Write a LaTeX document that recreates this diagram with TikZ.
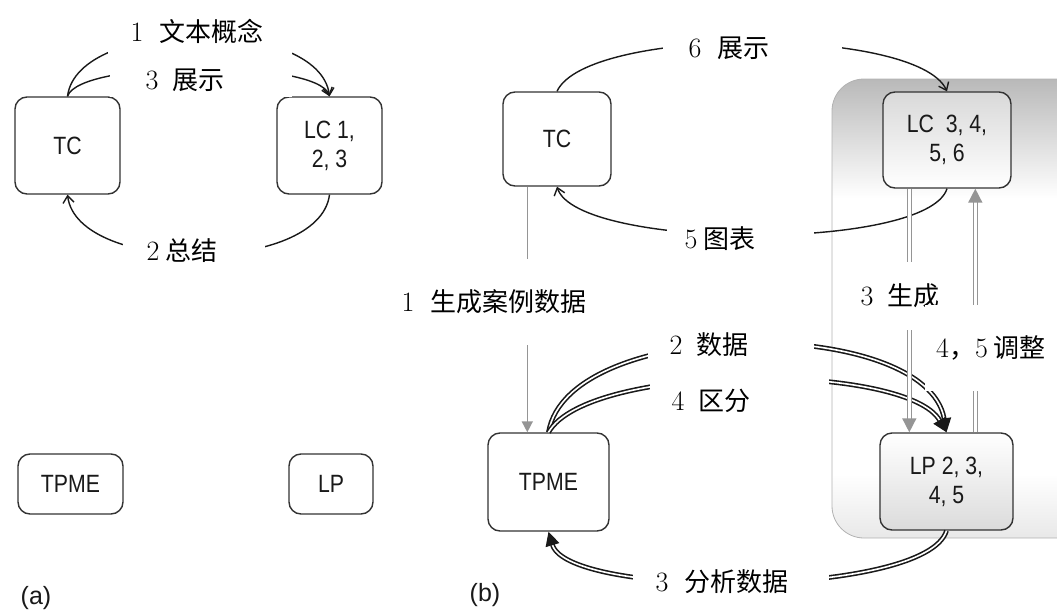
\documentclass[tikz,border=0pt]{standalone}
\usepackage{fontspec}
\newfontfamily\cjk{Noto Sans CJK SC}
\newfontfamily\boxf[FakeStretch=0.85]{Liberation Sans}
\newfontfamily\capf{Liberation Sans}
\usetikzlibrary{arrows.meta,calc}
\definecolor{edge}{HTML}{333333}
\definecolor{gline}{HTML}{959595}
\pgfdeclareverticalshading{bgshade}{100bp}{color(0bp)=(gray!18); color(25bp)=(gray!18); color(32bp)=(white); color(62bp)=(white); color(75bp)=(gray!55); color(100bp)=(gray!55)}
\tikzset{
  box/.style={draw=edge, line width=1.4pt, rounded corners=12pt, fill=white,
    font=\boxf\fontsize{25}{29}\selectfont, align=center, inner sep=0pt, text=black!90},
  lbl/.style={fill=white, inner sep=0pt, font=\cjk\fontsize{26}{30}\selectfont, text=black},
  capt/.style={font=\capf\fontsize{25}{29}\selectfont, text=black!90},
  blk/.style={draw=black!90, line width=1.4pt, -{Straight Barb[length=7pt,width=11pt]}},
  dbl/.style={draw=black!90, line width=1.6pt, double=white, double distance=1.6pt, -{Triangle[length=14pt,width=14pt]}},
  gdbl/.style={draw=gline, line width=1.6pt, double=white, double distance=2.4pt, -{Triangle[length=14pt,width=14pt]}},
  gsgl/.style={draw=gline, line width=1.5pt, -{Triangle[length=11pt,width=11pt]}}
}
\newcommand\dgt[1]{{\rmfamily\fontsize{28}{30}\selectfont #1}}
\newcommand\pad[1]{\hspace{#1}\null}
\begin{document}
\begin{tikzpicture}[x=1pt,y=-1pt]
\useasboundingbox (0,0) rectangle (1057,613);
% background region (b)
\shade[shading=bgshade, draw=gray!60, line width=0.8pt, rounded corners=32pt] (832,79) rectangle (1100,538);
% (a) boxes
\node[box, minimum width=105pt, minimum height=97pt] (tca) at (67.5,145.5) {TC};
\node[box, minimum width=105pt, minimum height=97pt] (lca) at (329.5,145.5) {LC 1,\\2, 3};
\node[box, minimum width=105pt, minimum height=60pt] (tpmea) at (70.5,484) {TPME};
\node[box, minimum width=84pt, minimum height=60pt] (lpa) at (331,484) {LP};
\node[capt] (capa) at (36,598) {(a)};
% (b) boxes
\node[box, minimum width=108pt, minimum height=94pt] (tcb) at (557,139) {TC};
\node[box, top color=gray!30, bottom color=white, minimum width=128pt, minimum height=96pt] (lcb) at (947,140) {LC\ \ 3, 4,\\5, 6};
\node[box, minimum width=121pt, minimum height=98pt] (tpmeb) at (548.5,482) {TPME};
\node[box, top color=white, bottom color=gray!28, minimum width=133pt, minimum height=97pt] (lpb) at (946.5,481.5) {LP 2, 3,\\4, 5};
\node[capt] (capb) at (485,595) {(b)};
% (a) connectors
\draw[blk] (tca.north) .. controls +(10,-80) and +(-10,-80) .. (lca.north);
\draw[blk] (tca.north) .. controls +(12,-37) and +(-12,-37) .. (lca.north);
\draw[blk] (lca.south) .. controls +(-10,80) and +(10,80) .. (tca.south);
% (b) connectors
\draw[blk] (tcb.north) .. controls +(30,-65) and +(-30,-65) .. (lcb.north);
\draw[blk] (lcb.south) .. controls +(-20,63) and +(20,63) .. (tcb.south);
\draw[dbl] (tpmeb.north) .. controls +(20,-117) and +(-20,-117) .. (lpb.north);
\draw[dbl] (tpmeb.north) .. controls +(40,-70) and +(-40,-70) .. (lpb.north);
\draw[dbl] (lpb.south) .. controls +(-20,67) and +(20,67) .. (tpmeb.south);
\coordinate (g1) at ($(tcb.south west)+(25,0)$);
\draw[gsgl] (g1) -- (g1 |- tpmeb.north);
\coordinate (g3) at ($(lcb.south west)+(27,0)$);
\draw[gdbl] (g3) -- (g3 |- lpb.north);
\coordinate (g45) at ($(lpb.north west)+(96,0)$);
\draw[gdbl] (g45) -- (g45 |- lcb.south);
% (a) labels
\node[lbl, minimum width=184pt, minimum height=62pt] (l1a) at (200,31) {\dgt{1}\hspace{16pt}文本概念\pad{6pt}};
\node[lbl, minimum width=182pt, minimum height=34pt] (l3a) at (201,80) {\dgt{3}\hspace{14pt}展示\pad{32pt}};
\node[lbl, minimum width=142pt, minimum height=58pt] (l2a) at (194,251) {\dgt{2} 总结\pad{24pt}};
% (b) labels
\node[lbl, minimum width=179pt, minimum height=60pt] (l6b) at (752.5,48) {\dgt{6}\hspace{16pt}展示\pad{47pt}};
\node[lbl, minimum width=147pt, minimum height=52pt] (l5b) at (740.5,239) {\dgt{5} 图表\pad{41pt}};
\node[lbl, minimum width=180pt, minimum height=86pt] (l1b) at (497,302) {\dgt{1}\hspace{16pt}生成案例数据\pad{6pt}};
\node[lbl, minimum width=128pt, minimum height=68pt] (l3b) at (904,296) {\dgt{3}\hspace{14pt}生成\pad{8pt}};
\node[lbl, minimum width=132pt, minimum height=86pt] (l45b) at (991,348) {\dgt{4}，\dgt{5} 调整};
\node[lbl, minimum width=166pt, minimum height=54pt] (l2b) at (731,345) {\dgt{2}\hspace{14pt}数据\pad{44pt}};
\node[lbl, minimum width=179pt, minimum height=58pt] (l4b) at (739.5,401) {\dgt{4}\hspace{14pt}区分\pad{57pt}};
\node[lbl, minimum width=196pt, minimum height=56pt] (l3c) at (731,582) {\dgt{3}\hspace{16pt}分析数据\pad{18pt}};
\end{tikzpicture}
\end{document}
